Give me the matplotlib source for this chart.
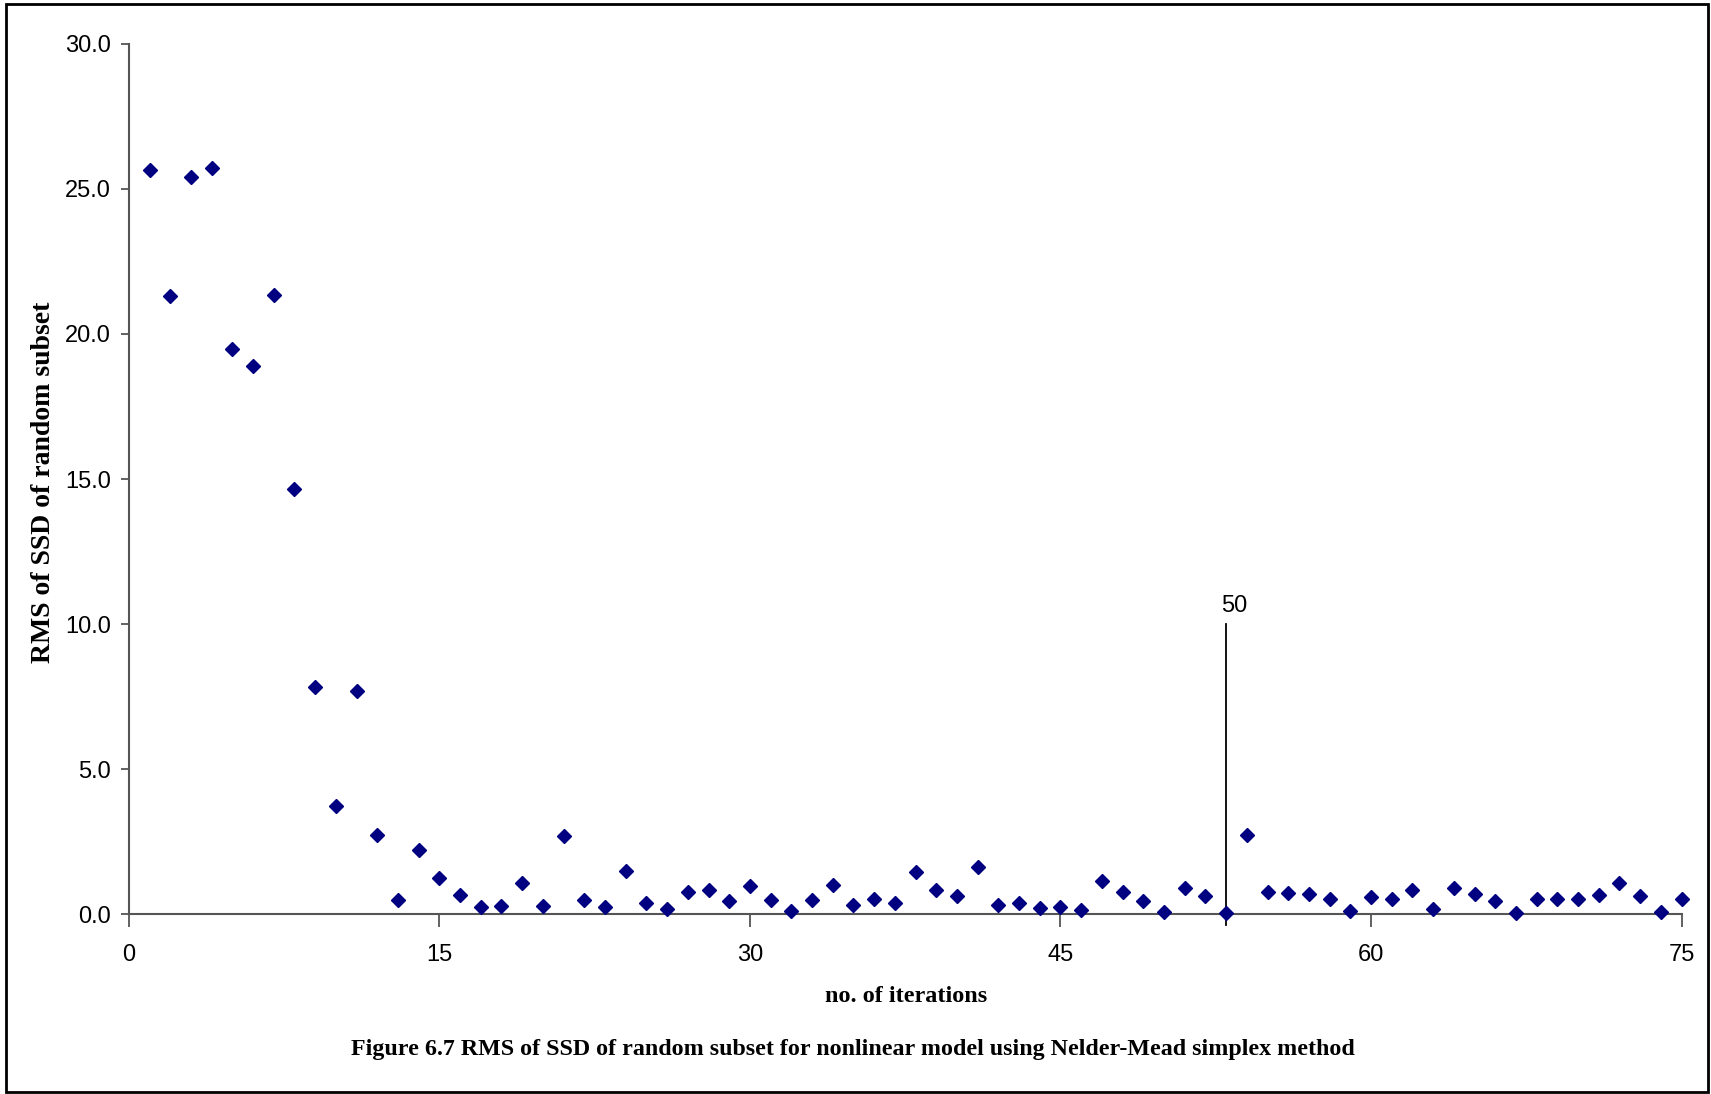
import matplotlib
matplotlib.use("Agg")
from matplotlib import pyplot as plt
from matplotlib.patches import Rectangle

# data
iterations = list(range(1, 76))
rms_ssd = [25.64, 21.31, 25.41, 25.71, 19.47, 18.91, 21.35, 14.66, 7.82, 3.72,
           7.71, 2.74, 0.49, 2.22, 1.24, 0.68, 0.26, 0.30, 1.09, 0.30,
           2.71, 0.49, 0.26, 1.50, 0.38, 0.19, 0.79, 0.86, 0.45, 0.98,
           0.49, 0.11, 0.49, 1.01, 0.34, 0.53, 0.41, 1.47, 0.86, 0.64,
           1.65, 0.34, 0.38, 0.23, 0.26, 0.15, 1.17, 0.79, 0.45, 0.08,
           0.90, 0.64, 0.04, 2.74, 0.79, 0.75, 0.71, 0.53, 0.11, 0.60,
           0.53, 0.83, 0.19, 0.90, 0.71, 0.45, 0.04, 0.53, 0.53, 0.53,
           0.68, 1.09, 0.64, 0.08, 0.53]
marker_x = 53
marker_top = 10.0
marker_label = "50"
x_ticks = [0, 15, 30, 45, 60, 75]
y_ticks = [0, 5, 10, 15, 20, 25, 30]

fig = plt.figure(figsize=(17.11, 10.94), dpi=100)
ax = fig.add_axes([0.0753, 0.1641, 0.9075, 0.796])

ax.plot(iterations, rms_ssd, linestyle="none", marker="D", markersize=7.5,
        color="#000080", clip_on=False, zorder=3)

# vertical marker line
ax.plot([marker_x, marker_x], [-0.37, marker_top], color="black", lw=1.3,
        clip_on=False, zorder=2)
ax.text(marker_x + 0.4, marker_top + 0.25, marker_label, ha="center", va="bottom",
        fontsize=17, family="Liberation Sans")

ax.set_xlim(0, 75)
ax.set_ylim(0, 30)
ax.set_xticks(x_ticks)
ax.set_yticks(y_ticks)
ax.set_yticklabels(["%.1f" % v for v in y_ticks])

for s in ["top", "right"]:
    ax.spines[s].set_visible(False)
for s in ["left", "bottom"]:
    ax.spines[s].set_color("#555555")
    ax.spines[s].set_linewidth(1.5)

ax.tick_params(axis="x", direction="out", length=9, width=1.3, color="#555555",
               pad=12, labelsize=17)
ax.tick_params(axis="y", direction="out", length=6, width=1.3, color="#555555",
               pad=7, labelsize=17)
for lab in ax.get_xticklabels() + ax.get_yticklabels():
    lab.set_family("Liberation Sans")

fig.text(44 / 1711, 1 - 482 / 1094, "RMS of SSD of random subset", rotation=90,
         ha="center", va="center", fontsize=20, fontweight="bold",
         family="Liberation Serif")
fig.text(906 / 1711, 1 - 996 / 1094, "no. of iterations", ha="center", va="center",
         fontsize=17.5, fontweight="bold", family="Liberation Serif")
fig.text(853 / 1711, 1 - 1050 / 1094,
         "Figure 6.7 RMS of SSD of random subset for nonlinear model using Nelder-Mead simplex method",
         ha="center", va="center", fontsize=17.3, fontweight="bold",
         family="Liberation Serif")

# outer frame
fig.patches.append(Rectangle((6 / 1711, 2 / 1094), 1702 / 1711, 1088 / 1094,
                             transform=fig.transFigure, fill=False,
                             edgecolor="black", lw=2))

fig.savefig("out.png", dpi=100)
